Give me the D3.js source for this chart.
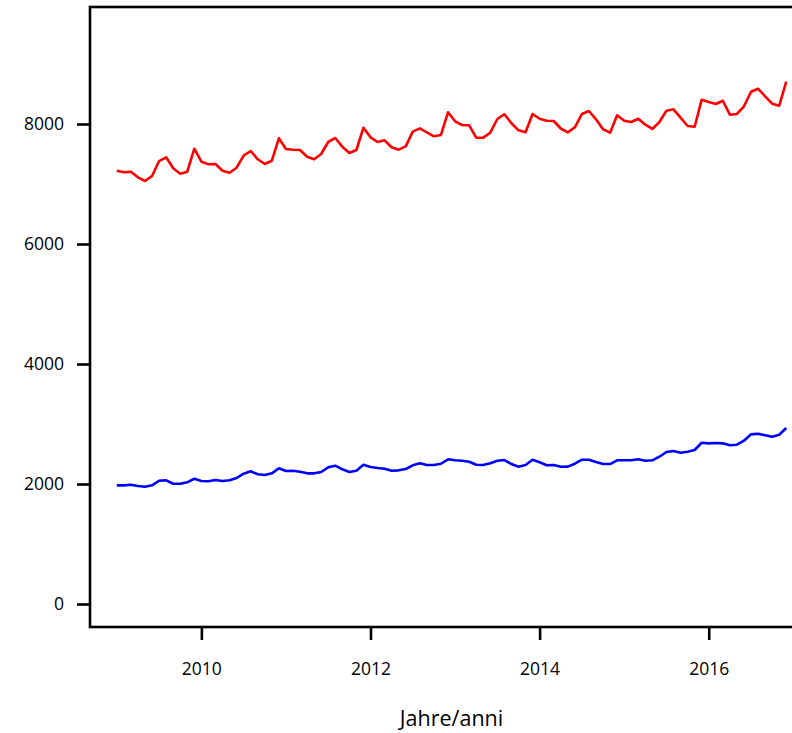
<!DOCTYPE html>
<html lang="en">
  <head>
    <meta charset="UTF-8" />
    <title>Jahre/anni</title>
    <style>
      body { margin: 0; background: #fff; }
      svg text { font-family: "Open Sans", "DejaVu Sans", sans-serif; fill: #000; }
    </style>
  </head>
  <body>
    <svg id="svg" width="792" height="733"></svg>

    <script src="https://cdn.jsdelivr.net/npm/d3@7"></script>
    <script>
      const WIDTH = 792;
      const HEIGHT = 733;

      // monthly series, Jan 2009 .. Dec 2016
      const START_YEAR = 2009;
      const X_TICKS = [2010, 2012, 2014, 2016];
      const Y_TICKS = [0, 2000, 4000, 6000, 8000];
      const X_LABEL = "Jahre/anni";

      const RED_VALUES = [
        7222, 7195, 7205, 7112, 7050, 7133, 7383, 7445, 7262, 7172, 7205, 7588,
        7372, 7328, 7333, 7222, 7188, 7272, 7472, 7550, 7412, 7333, 7388, 7762,
        7583, 7572, 7567, 7455, 7412, 7500, 7700, 7767, 7622, 7517, 7567, 7938,
        7778, 7700, 7728, 7612, 7572, 7628, 7872, 7928, 7862, 7795, 7817, 8195,
        8045, 7983, 7978, 7772, 7772, 7855, 8083, 8162, 8012, 7895, 7862, 8167,
        8088, 8055, 8050, 7925, 7860, 7945, 8167, 8217, 8078, 7912, 7855, 8145,
        8055, 8033, 8088, 7988, 7917, 8033, 8222, 8245, 8105, 7967, 7955, 8405,
        8367, 8333, 8388, 8155, 8167, 8295, 8538, 8588, 8462, 8338, 8305, 8705,
      ];

      const BLUE_VALUES = [
        1978, 1978, 1988, 1967, 1955, 1978, 2055, 2062, 2005, 2005, 2028, 2088,
        2050, 2045, 2067, 2050, 2062, 2100, 2172, 2212, 2162, 2150, 2178, 2262,
        2217, 2222, 2205, 2178, 2178, 2200, 2278, 2305, 2245, 2200, 2222, 2322,
        2283, 2267, 2255, 2222, 2228, 2250, 2312, 2345, 2317, 2317, 2338, 2412,
        2395, 2388, 2372, 2322, 2317, 2345, 2388, 2400, 2333, 2288, 2317, 2405,
        2362, 2312, 2317, 2288, 2290, 2338, 2405, 2405, 2367, 2333, 2333, 2395,
        2395, 2395, 2412, 2388, 2395, 2455, 2533, 2550, 2522, 2538, 2567, 2688,
        2678, 2683, 2678, 2645, 2655, 2722, 2828, 2838, 2812, 2788, 2822, 2933,
      ];

      const SERIES = [
        { name: "red", color: "#ff0000", values: RED_VALUES },
        { name: "blue", color: "#0000ff", values: BLUE_VALUES },
      ];

      // plot region (R style box with 4% padding)
      const xScale = d3
        .scaleLinear()
        .domain([2008.683, 2017.233])
        .range([90, 813]);

      const yScale = d3
        .scaleLinear()
        .domain([-383, 9950])
        .range([627, 7]);

      const svg = d3.select("#svg");

      const lineGen = d3
        .line()
        .x((d, i) => xScale(START_YEAR + i / 12))
        .y((d) => yScale(d));

      // Draw the series
      SERIES.forEach((s) => {
        svg
          .append("path")
          .attr("d", lineGen(s.values))
          .attr("fill", "none")
          .attr("stroke", s.color)
          .attr("stroke-width", 2.6)
          .attr("stroke-linejoin", "round");
      });

      // Box around the plot
      const [x0, x1] = xScale.range();
      const [y0, y1] = yScale.range();
      svg
        .append("rect")
        .attr("x", x0)
        .attr("y", y1)
        .attr("width", x1 - x0)
        .attr("height", y0 - y1)
        .attr("fill", "none")
        .attr("stroke", "#000")
        .attr("stroke-width", 2.6);

      // Axes
      const leftAxis = d3
        .axisLeft(yScale)
        .tickValues(Y_TICKS)
        .tickFormat(d3.format("d"))
        .tickSize(13)
        .tickPadding(13);

      const bottomAxis = d3
        .axisBottom(xScale)
        .tickValues(X_TICKS)
        .tickFormat(d3.format("d"))
        .tickSize(13)
        .tickPadding(23);

      const gy = svg
        .append("g")
        .attr("transform", `translate(${x0}, 0)`)
        .call(leftAxis);

      const gx = svg
        .append("g")
        .attr("transform", `translate(0, ${y0})`)
        .call(bottomAxis);

      [gy, gx].forEach((g) => {
        g.select(".domain").remove();
        g.selectAll(".tick line").attr("stroke", "#000").attr("stroke-width", 2.6);
        g.selectAll(".tick text")
          .attr("font-family", null)
          .attr("font-size", 17.5);
      });

      // Axis title
      svg
        .append("text")
        .attr("x", (x0 + x1) / 2)
        .attr("y", 726)
        .attr("text-anchor", "middle")
        .attr("font-size", 21.5)
        .text(X_LABEL);
    </script>
  </body>
</html>
